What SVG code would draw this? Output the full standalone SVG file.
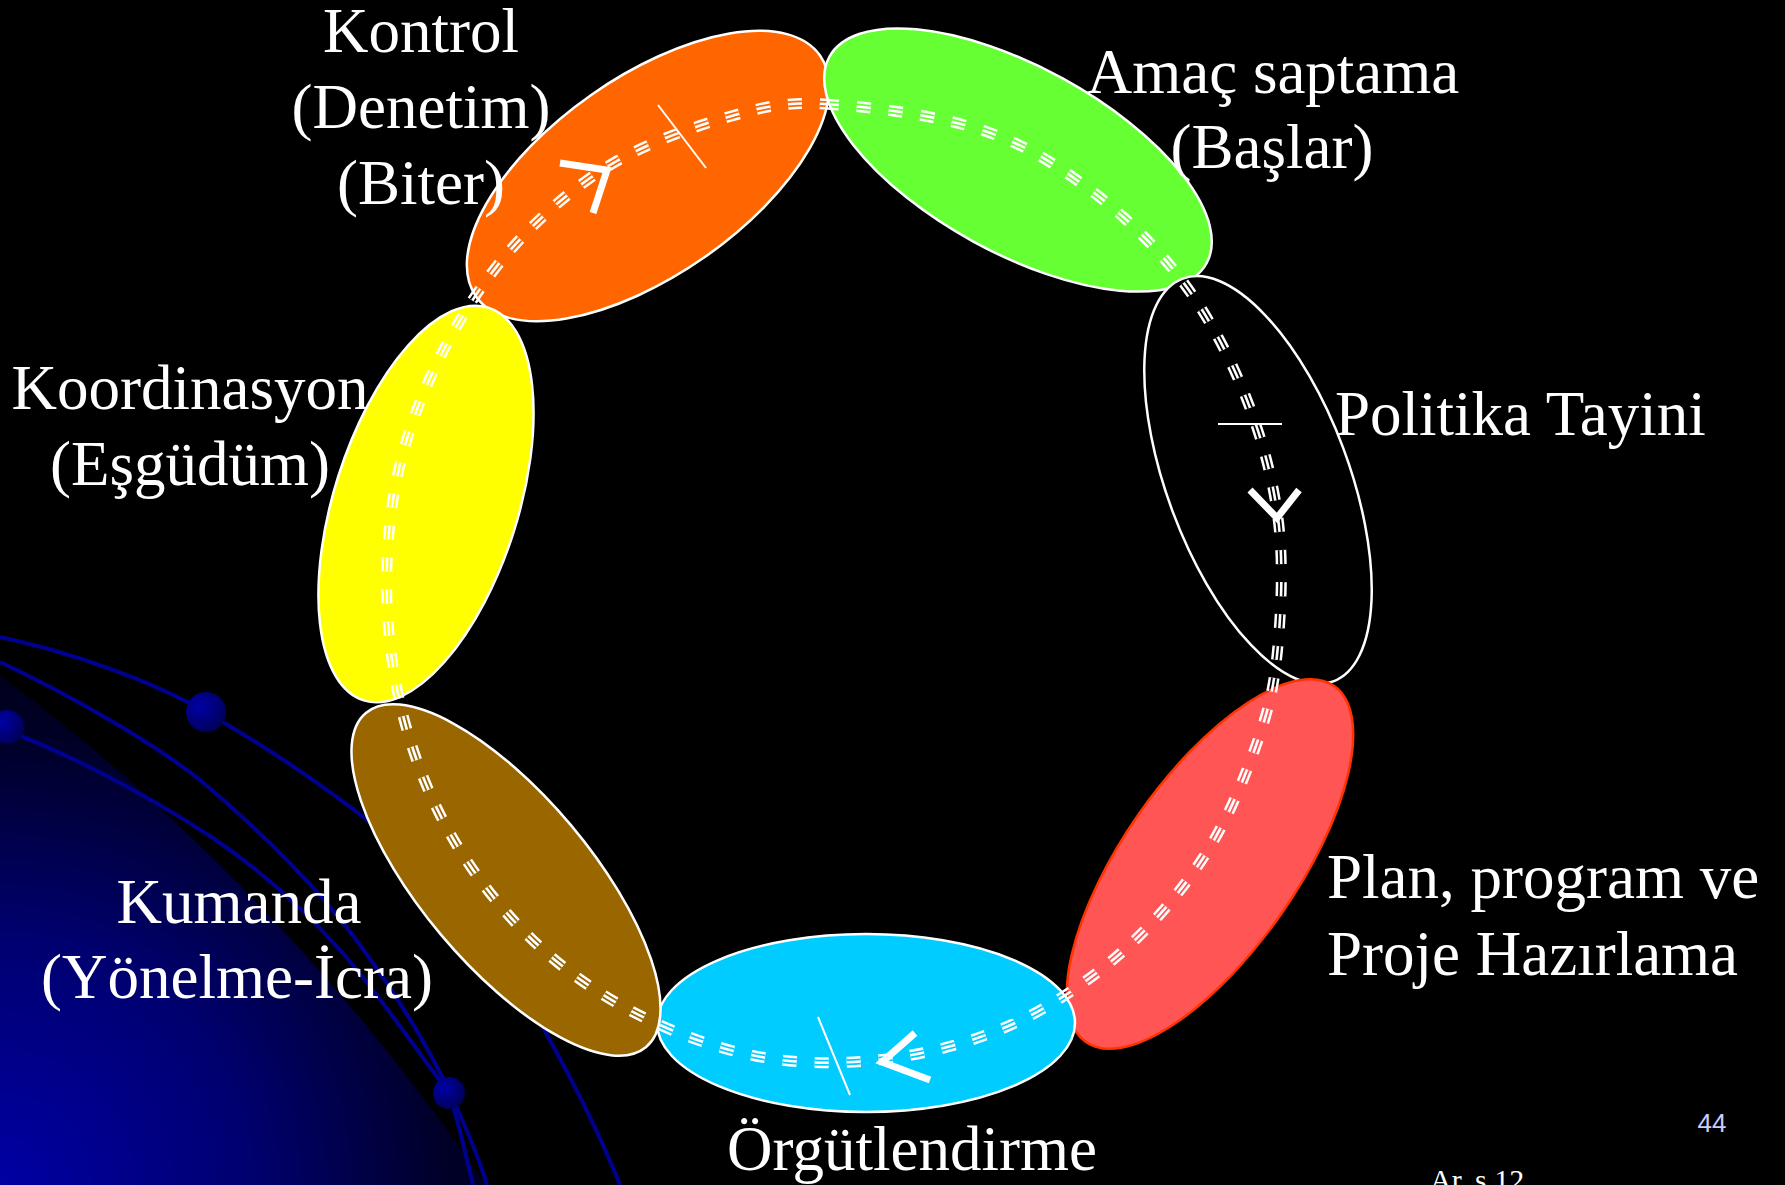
<svg xmlns="http://www.w3.org/2000/svg" xmlns:xlink="http://www.w3.org/1999/xlink" width="1785" height="1185" viewBox="0 0 1785 1185">
<style>
.lbl{font-family:"Liberation Serif","Times New Roman",serif;font-size:63px;fill:#fff}
.mid{text-anchor:middle}
.ell{stroke:#fff;stroke-width:2.5}
.orbit{fill:none;stroke:#000090;stroke-width:4}
.chev{fill:none;stroke:#fff;stroke-width:7;stroke-linejoin:miter}
.tick{stroke:#fff;stroke-width:2}
</style>
<defs>
<radialGradient id="planet" gradientUnits="userSpaceOnUse" cx="0" cy="1185" r="620">
<stop offset="0" stop-color="#0000a4"/>
<stop offset="0.4" stop-color="#000070"/>
<stop offset="0.72" stop-color="#000028"/>
<stop offset="1" stop-color="#000006"/>
</radialGradient>
<radialGradient id="ball" cx="0.35" cy="0.35" r="0.7">
<stop offset="0" stop-color="#0000a8"/>
<stop offset="1" stop-color="#000058"/>
</radialGradient>
<path id="loop" fill="none" stroke-dasharray="14 18" d="M825,104 C867.3,106.2 937.3,115.3 982,130 C1026.7,144.7 1059.5,166.7 1093,192 C1126.5,217.3 1157.7,248.2 1183,282 C1208.3,315.8 1229.2,355.7 1245,395 C1260.8,434.3 1272.5,476.3 1278,518 C1283.5,559.7 1281.3,608 1278,645 C1274.7,682 1270.2,705 1258,740 C1245.8,775 1227.7,819.7 1205,855 C1182.3,890.3 1153.7,924 1122,952 C1090.3,980 1053.2,1005.3 1015,1023 C976.8,1040.7 934.3,1052.2 893,1058 C851.7,1063.8 808.3,1064.7 767,1058 C725.7,1051.3 682.8,1036.5 645,1018 C607.2,999.5 571.2,975.5 540,947 C508.8,918.5 480.2,883.2 458,847 C435.8,810.8 418.8,770.7 407,730 C395.2,689.3 388.5,645.8 387,603 C385.5,560.2 388.8,514.7 398,473 C407.2,431.3 422.8,390.7 442,353 C461.2,315.3 485,278.3 513,247 C541,215.7 574.2,186.7 610,165 C645.8,143.3 692.2,127.2 728,117 C763.8,106.8 782.7,101.8 825,104 Z"/>
<mask id="tri" maskUnits="userSpaceOnUse" x="0" y="0" width="1785" height="1185">
<use xlink:href="#loop" href="#loop" stroke="#fff" stroke-width="11"/>
<use xlink:href="#loop" href="#loop" stroke="#000" stroke-width="6"/>
<use xlink:href="#loop" href="#loop" stroke="#fff" stroke-width="2.6"/>
</mask>
</defs>

<g id="background">
<rect x="0" y="0" width="1785" height="1185" fill="#000"/>
<circle cx="-1300" cy="2400" r="2160" fill="url(#planet)"/>
<path class="orbit" d="M0,637 C70,652 150,680 206,712 C280,755 330,790 380,830 C460,900 520,980 547,1035 C575,1085 600,1135 620,1185"/>
<path class="orbit" d="M0,662 C60,690 150,740 200,780 C260,830 320,890 360,945 C400,1000 430,1050 450,1093 C465,1125 478,1155 487,1185"/>
<path class="orbit" d="M0,728 C60,750 140,790 213,838 C260,870 300,905 340,950 C380,995 420,1055 449,1093 C458,1120 466,1155 473,1185"/>
<circle cx="206" cy="712" r="20" fill="url(#ball)"/>
<circle cx="7" cy="727" r="17" fill="url(#ball)"/>
<circle cx="449" cy="1093" r="16" fill="url(#ball)"/>
</g>

<g id="node-kontrol">
<ellipse class="ell" cx="648" cy="176" rx="210" ry="99" transform="rotate(-35 648 176)" fill="#ff6600"/>
<text class="lbl mid" x="421" y="52">Kontrol</text>
<text class="lbl mid" x="421" y="128">(Denetim)</text>
<text class="lbl mid" x="421" y="204">(Biter)</text>
</g>

<g id="node-amac">
<ellipse class="ell" cx="1018" cy="160" rx="215" ry="93" transform="rotate(28.7 1018 160)" fill="#66ff33"/>
<text class="lbl mid" x="1273" y="93">Amaç saptama</text>
<text class="lbl mid" x="1272" y="168">(Başlar)</text>
</g>

<g id="node-politika">
<ellipse class="ell" cx="1258" cy="480" rx="91" ry="215" transform="rotate(-20.5 1258 480)" fill="#000"/>
<text class="lbl" x="1335" y="435">Politika Tayini</text>
</g>

<g id="node-plan">
<ellipse cx="1210" cy="864" rx="87" ry="217" transform="rotate(34.9 1210 864)" fill="#ff5555" stroke="#ff3300" stroke-width="2.5"/>
<text class="lbl" x="1327" y="898">Plan, program ve</text>
<text class="lbl" x="1327" y="975">Proje Hazırlama</text>
</g>

<g id="node-orgut">
<ellipse class="ell" cx="866" cy="1023" rx="209" ry="89" fill="#00ccff"/>
<text class="lbl mid" x="912" y="1170">Örgütlendirme</text>
</g>

<g id="node-kumanda">
<ellipse class="ell" cx="506" cy="880" rx="85" ry="218" transform="rotate(-40 506 880)" fill="#996600"/>
<text class="lbl mid" x="239" y="923">Kumanda</text>
<text class="lbl mid" x="237" y="998">(Yönelme-İcra)</text>
</g>

<g id="node-koordinasyon">
<ellipse class="ell" cx="426" cy="504" rx="92" ry="206" transform="rotate(17.6 426 504)" fill="#ffff00"/>
<text class="lbl mid" x="190" y="409">Koordinasyon</text>
<text class="lbl mid" x="190" y="485">(Eşgüdüm)</text>
</g>

<g id="connectors">
<rect x="0" y="0" width="1785" height="1185" fill="#fff" mask="url(#tri)"/>
<line class="tick" x1="658" y1="105" x2="706" y2="168"/>
<polyline class="chev" points="560,163 607,170 593,213"/>
<line class="tick" x1="1218" y1="424" x2="1282" y2="424"/>
<polyline class="chev" points="1250,490 1277,518 1299,490"/>
<line class="tick" x1="818" y1="1017" x2="850" y2="1095"/>
<polyline class="chev" points="915,1033 882,1062 930,1080"/>
</g>

<g id="footer">
<text x="1712" y="1132" text-anchor="middle" font-family="'Liberation Sans',Arial,sans-serif" font-size="26" fill="#ccccff">44</text>
<text x="1430" y="1190" font-family="'Liberation Serif','Times New Roman',serif" font-size="30" fill="#fff">Ar. s.12</text>
</g>
</svg>
